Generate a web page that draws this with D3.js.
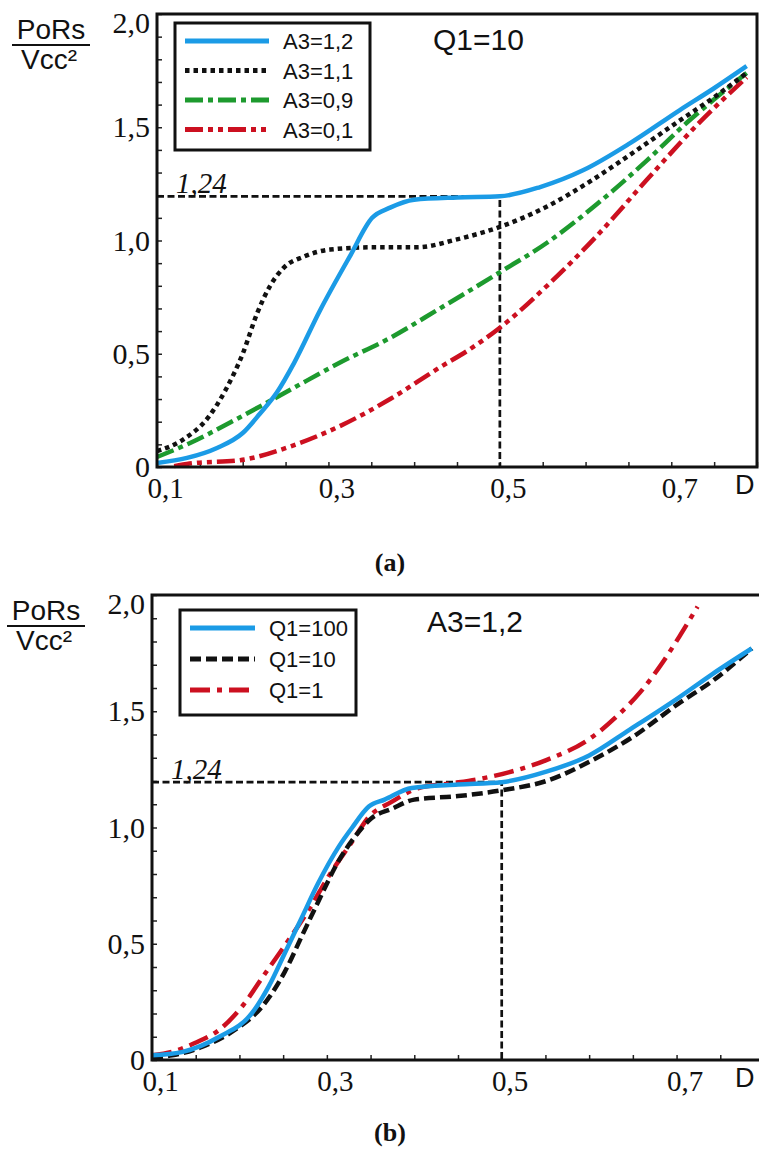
<!DOCTYPE html>
<html>
<head>
<meta charset="utf-8">
<script src="https://cdn.jsdelivr.net/npm/d3@7"></script>
<style>
  body { margin: 0; background: #fff; }
  svg { display: block; }
</style>
</head>
<body>
<svg id="fig" width="759" height="1151"></svg>
<script>
// tick labels (D on x, PoRs/Vcc^2 on y)
const dTicks = [0.1, 0.3, 0.5, 0.7]
const yTicks = [0, 0.5, 1.0, 1.5, 2.0]

// dashed guide: D = 0.5 up to the plateau, labelled 1,24 in the figure
const refD = 0.5
const refLevel = 1.195
const refLabel = '1,24'

// (a) Q1=10, different A3 -- [D, PoRs/Vcc^2]
const a3_12 = [[0.1, 0.018], [0.135, 0.04], [0.17, 0.084], [0.2, 0.15], [0.22, 0.235], [0.24, 0.33],
  [0.26, 0.46], [0.29, 0.69], [0.325, 0.93], [0.351, 1.10], [0.372, 1.145], [0.40, 1.18],
  [0.45, 1.19], [0.5, 1.195], [0.547, 1.236], [0.597, 1.31], [0.652, 1.43], [0.71, 1.576], [0.749, 1.67], [0.788, 1.77]]
const a3_11 = [[0.1, 0.07], [0.13, 0.12], [0.16, 0.22], [0.18, 0.34], [0.2, 0.50], [0.217, 0.68], [0.232, 0.80],
  [0.248, 0.88], [0.272, 0.93], [0.302, 0.96], [0.353, 0.97], [0.403, 0.97], [0.45, 1.005], [0.5, 1.06],
  [0.555, 1.15], [0.609, 1.27], [0.664, 1.41], [0.71, 1.53], [0.749, 1.63], [0.788, 1.74]]
const a3_09 = [[0.1, 0.044], [0.138, 0.105], [0.197, 0.22], [0.255, 0.34], [0.313, 0.46], [0.372, 0.57],
  [0.43, 0.70], [0.5, 0.86], [0.555, 0.99], [0.613, 1.16], [0.672, 1.355], [0.718, 1.52],
  [0.749, 1.62], [0.788, 1.74]]
const a3_01 = [[0.12, 0.004], [0.138, 0.015], [0.197, 0.03], [0.255, 0.09], [0.313, 0.18], [0.372, 0.30],
  [0.43, 0.44], [0.465, 0.52], [0.5, 0.615], [0.555, 0.80], [0.613, 1.02], [0.672, 1.27], [0.73, 1.51], [0.788, 1.72]]

// (b) A3=1,2, different Q1
const q1_100 = [[0.1, 0.02], [0.134, 0.034], [0.177, 0.10], [0.214, 0.20], [0.234, 0.32], [0.252, 0.46],
  [0.271, 0.61], [0.29, 0.76], [0.314, 0.92], [0.329, 1.0], [0.348, 1.09], [0.366, 1.12], [0.397, 1.17],
  [0.45, 1.185], [0.5, 1.195], [0.551, 1.24], [0.6, 1.31], [0.646, 1.42], [0.703, 1.56], [0.741, 1.66], [0.786, 1.77]]
const q1_10 = [[0.1, 0.01], [0.123, 0.02], [0.157, 0.056], [0.195, 0.13], [0.226, 0.23], [0.252, 0.38],
  [0.271, 0.53], [0.29, 0.68], [0.314, 0.86], [0.332, 0.96], [0.351, 1.04], [0.374, 1.08], [0.40, 1.12],
  [0.45, 1.135], [0.5, 1.16], [0.551, 1.20], [0.604, 1.29], [0.65, 1.39], [0.703, 1.535], [0.741, 1.63], [0.786, 1.77]]
const q1_1 = [[0.1, 0.02], [0.123, 0.035], [0.149, 0.073], [0.177, 0.13], [0.203, 0.23], [0.229, 0.37],
  [0.257, 0.52], [0.28, 0.65], [0.302, 0.79], [0.329, 0.94], [0.348, 1.045], [0.374, 1.11], [0.405, 1.17],
  [0.443, 1.19], [0.489, 1.22], [0.551, 1.29], [0.6, 1.38], [0.635, 1.49], [0.658, 1.58], [0.684, 1.71],
  [0.703, 1.82], [0.724, 1.95]]

const BLUE = '#1b9be6'
const BLACK = '#111'
const GREEN = '#1d9a2e'
const RED = '#cc1020'

const panels = [
  {
    box: { left: 157, right: 757, top: 14, bottom: 467 },
    title: 'Q1=10',
    titlePos: [433, 50],
    caption: '(a)',
    captionY: 571,
    legend: { x: 175, y: 23, w: 195, h: 127, row0: 41, rowStep: 29.5, lineW: 84 },
    series: [
      { name: 'A3=1,2', data: a3_12, color: BLUE, dash: null },
      { name: 'A3=1,1', data: a3_11, color: BLACK, dash: '4.5,4' },
      { name: 'A3=0,9', data: a3_09, color: GREEN, dash: '18,5,5,5' },
      { name: 'A3=0,1', data: a3_01, color: RED, dash: '18,5,5,5,5,5' }
    ]
  },
  {
    box: { left: 152, right: 764, top: 595, bottom: 1060 },
    title: 'A3=1,2',
    titlePos: [427, 632],
    caption: '(b)',
    captionY: 1141,
    legend: { x: 180, y: 610, w: 176, h: 105, row0: 628, rowStep: 31, lineW: 65 },
    series: [
      { name: 'Q1=100', data: q1_100, color: BLUE, dash: null },
      { name: 'Q1=10', data: q1_10, color: BLACK, dash: '11,5' },
      { name: 'Q1=1', data: q1_1, color: RED, dash: '20,7,5,7' }
    ]
  }
]

const svg = d3.select('#fig')
const fmtComma = d => d === 0 ? '0' : d3.format('.1f')(d).replace('.', ',')
const SERIF = '"Liberation Serif", "Times New Roman", serif'
const SANS = '"Liberation Sans", Arial, sans-serif'

function drawPanel (p) {
  const b = p.box
  const x = d3.scaleLinear().domain([0.1, 0.8]).range([b.left, b.right])
  const y = d3.scaleLinear().domain([0, 2]).range([b.bottom, b.top])

  const g = svg.append('g').attr('class', 'panel')

  // minor ticks, drawn inward
  g.append('g')
    .attr('transform', `translate(0,${b.bottom})`)
    .call(d3.axisBottom(x).tickValues(d3.range(0.1, 0.801, 0.05)).tickSizeInner(-5).tickSizeOuter(0).tickFormat(''))
    .call(a => a.select('.domain').remove())
    .call(a => a.selectAll('line').attr('stroke', '#222').attr('stroke-width', 1.5))

  g.append('g')
    .attr('transform', `translate(${b.left},0)`)
    .call(d3.axisLeft(y).tickValues(d3.range(0, 2.001, 0.1)).tickSizeInner(-5).tickSizeOuter(0).tickFormat(''))
    .call(a => a.select('.domain').remove())
    .call(a => a.selectAll('line').attr('stroke', '#222').attr('stroke-width', 1.5))

  // labelled axes
  g.append('g')
    .attr('transform', `translate(0,${b.bottom})`)
    .call(d3.axisBottom(x).tickValues(dTicks).tickSize(0).tickPadding(10).tickFormat(fmtComma))
    .call(a => a.select('.domain').remove())
    .call(a => a.selectAll('text')
      .attr('dx', 8)
      .attr('fill', '#111')
      .style('font-family', SERIF)
      .style('font-size', '29px'))

  g.append('g')
    .attr('transform', `translate(${b.left},0)`)
    .call(d3.axisLeft(y).tickValues(yTicks).tickSize(0).tickPadding(7).tickFormat(fmtComma))
    .call(a => a.select('.domain').remove())
    .call(a => a.selectAll('text')
      .attr('fill', '#111')
      .style('font-family', SERIF)
      .style('font-size', '30px'))
    // top label sits just under the frame corner in the original
    .call(a => a.selectAll('text').filter(d => d === 2).attr('dy', '0.62em'))

  // dashed guide lines
  g.append('path')
    .attr('d', `M${x(0.1)},${y(refLevel)}H${x(refD)}V${y(0)}`)
    .attr('fill', 'none')
    .attr('stroke', '#111')
    .attr('stroke-width', 2.7)
    .attr('stroke-dasharray', '7,3.5')

  g.append('text')
    .attr('x', x(0.1) + 19)
    .attr('y', y(refLevel) - 3)
    .style('font-family', SERIF)
    .style('font-style', 'italic')
    .style('font-size', '29px')
    .attr('fill', '#111')
    .text(refLabel)

  // curves
  const line = d3.line()
    .x(d => x(d[0]))
    .y(d => y(d[1]))
    .curve(d3.curveMonotoneX)

  // last series underneath, first on top
  const order = p.series.slice().reverse()
  g.selectAll('.curve')
    .data(order)
    .enter().append('path')
    .attr('class', 'curve')
    .attr('d', s => line(s.data))
    .attr('fill', 'none')
    .attr('stroke', s => s.color)
    .attr('stroke-width', 4.5)
    .attr('stroke-linecap', 'butt')
    .attr('stroke-linejoin', 'round')
    .attr('stroke-dasharray', s => s.dash)

  // frame
  g.append('rect')
    .attr('x', b.left)
    .attr('y', b.top)
    .attr('width', b.right - b.left)
    .attr('height', b.bottom - b.top)
    .attr('fill', 'none')
    .attr('stroke', '#111')
    .attr('stroke-width', 3)

  // legend
  const lg = p.legend
  g.append('rect')
    .attr('x', lg.x)
    .attr('y', lg.y)
    .attr('width', lg.w)
    .attr('height', lg.h)
    .attr('fill', '#fff')
    .attr('stroke', '#111')
    .attr('stroke-width', 3)

  const rows = g.selectAll('.lg-row')
    .data(p.series)
    .enter().append('g')
    .attr('class', 'lg-row')
    .attr('transform', (s, i) => `translate(${lg.x + 10},${lg.row0 + i * lg.rowStep})`)

  rows.append('line')
    .attr('x1', 0)
    .attr('x2', lg.lineW)
    .attr('stroke', s => s.color)
    .attr('stroke-width', 4.8)
    .attr('stroke-dasharray', s => s.dash)

  rows.append('text')
    .attr('x', lg.lineW + 14)
    .attr('y', 8)
    .style('font-family', SANS)
    .style('font-size', '22px')
    .attr('fill', '#111')
    .text(s => s.name)

  // title inside the plot
  g.append('text')
    .attr('x', p.titlePos[0])
    .attr('y', p.titlePos[1])
    .style('font-family', SANS)
    .style('font-size', '30px')
    .attr('fill', '#111')
    .text(p.title)

  // y name as a fraction, left of the tick labels
  const fx = b.left - 106
  g.append('text')
    .attr('x', fx)
    .attr('y', b.top + 25)
    .attr('text-anchor', 'middle')
    .style('font-family', SANS)
    .style('font-size', '28px')
    .attr('fill', '#111')
    .text('PoRs')

  g.append('line')
    .attr('x1', fx - 39)
    .attr('x2', fx + 39)
    .attr('y1', b.top + 31)
    .attr('y2', b.top + 31)
    .attr('stroke', '#111')
    .attr('stroke-width', 2)

  g.append('text')
    .attr('x', fx - 2)
    .attr('y', b.top + 55)
    .attr('text-anchor', 'middle')
    .style('font-family', SANS)
    .style('font-size', '28px')
    .attr('fill', '#111')
    .text('Vcc²')

  g.append('text')
    .attr('x', 735)
    .attr('y', b.bottom + 27)
    .style('font-family', SANS)
    .style('font-size', '27px')
    .attr('fill', '#111')
    .text('D')

  // caption
  svg.append('text')
    .attr('x', 390)
    .attr('y', p.captionY)
    .attr('text-anchor', 'middle')
    .style('font-family', SERIF)
    .style('font-weight', 'bold')
    .style('font-size', '26px')
    .attr('fill', '#111')
    .text(p.caption)
}

panels.forEach(drawPanel)
</script>
</body>
</html>
